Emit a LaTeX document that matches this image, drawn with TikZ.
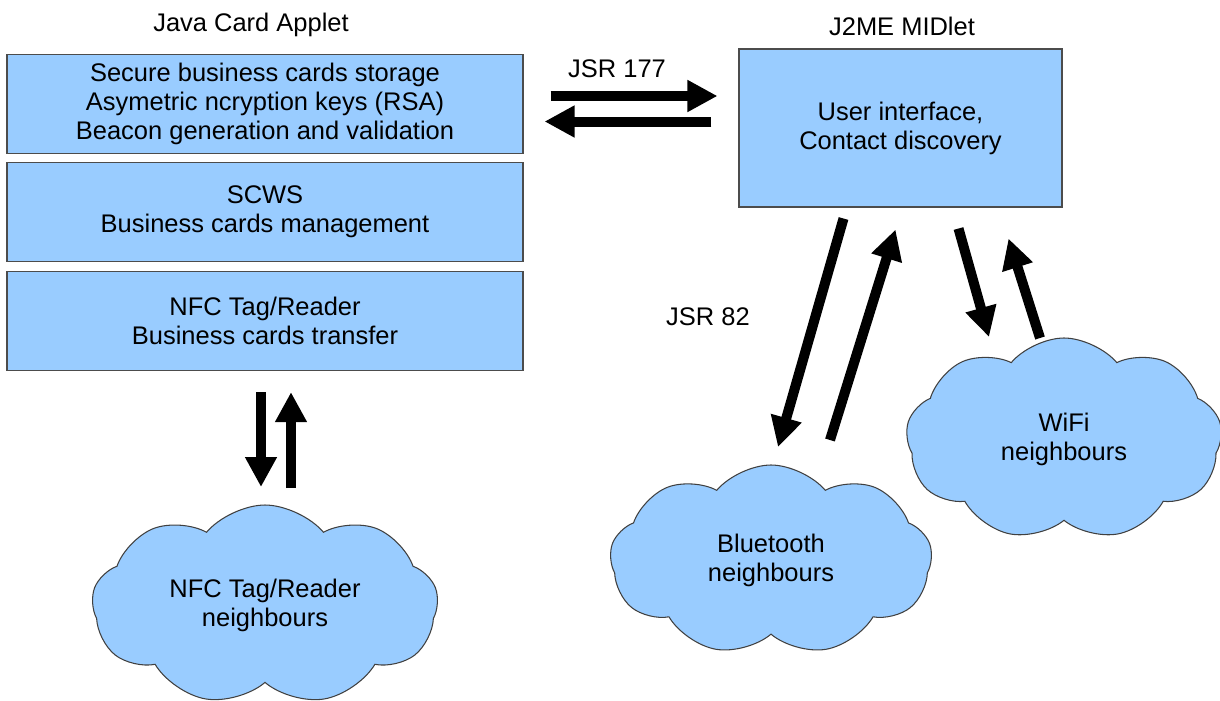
\documentclass[tikz,border=0pt]{standalone}
\usepackage{fontspec}
\setmainfont{Liberation Sans}
\usepackage{xcolor}
\usepackage{tikz}
\usetikzlibrary{shapes,arrows,positioning,calc,arrows.meta}
\definecolor{skyfill}{HTML}{99CCFF}

\begin{document}
\begin{tikzpicture}[
    font=\fontsize{14.5}{16.5}\selectfont,
    layer/.style={draw=black!70, line width=0.6pt, fill=skyfill, minimum width=10.32cm, minimum height=1.98cm, align=center, inner sep=0pt},
    puff/.style={cloud, cloud puffs=9, cloud puff arc=100, cloud ignores aspect, draw=black!75, line width=0.6pt, fill=skyfill, align=center},
    fat/.style={line width=0.2cm, -{Triangle[width=0.6cm,length=0.6cm]}}
  ]
    \useasboundingbox (0,0) rectangle (24.4,-14);

    % Java Card side
    \node [anchor=base] (apptitle) at (5.02, -0.62) {Java Card Applet};
    \node [layer] (store) at (5.3, -2.08) {Secure business cards storage\\Asymetric ncryption keys (RSA)\\Beacon generation and validation};
    \node [layer, below=0.16cm of store] (scws) {SCWS\\Business cards management};
    \node [layer, below=0.18cm of scws] (nfcrw) {NFC Tag/Reader\\Business cards transfer};

    % J2ME side
    \node [anchor=base] (midtitle) at (18.04, -0.7) {J2ME MIDlet};
    \node [layer, minimum width=6.46cm, minimum height=3.16cm] (midlet) at (18.01, -2.56) {User interface,\\Contact discovery};

    % Neighbours
    \node [puff, minimum width=6.92cm, minimum height=4.0cm] (nfc) at (5.3, -12.1) {NFC Tag/Reader\\neighbours};
    \node [puff, minimum width=6.44cm, minimum height=3.8cm] (bt) at (15.42, -11.2) {Bluetooth\\neighbours};
    \node [puff, minimum width=6.32cm, minimum height=4.04cm] (wifi) at (21.28, -8.78) {WiFi\\neighbours};

    % JSR 177
    \node [anchor=base] (jsr177) at (12.34, -1.54) {JSR 177};
    \draw [fat, shorten <=0.54cm, shorten >=0.42cm] ([yshift=0.16cm]store.east) -- ([yshift=0.16cm]store.east -| midlet.west);
    \draw [fat, shorten <=0.54cm, shorten >=0.42cm] ([yshift=-0.35cm]store.east -| midlet.west) -- ([yshift=-0.35cm]store.east);

    % NFC
    \draw [fat] ([xshift=-0.08cm, yshift=-0.42cm]nfcrw.south) -- ([xshift=-0.08cm, yshift=2.36cm]nfc.center);
    \draw [fat] ([xshift=0.52cm, yshift=2.34cm]nfc.center) -- ([xshift=0.52cm, yshift=-0.42cm]nfcrw.south);

    % JSR 82
    \node [anchor=base] (jsr82) at (14.16, -6.5) {JSR 82};
    \draw [fat] ([xshift=-1.14cm, yshift=-0.22cm]midlet.south) -- ([xshift=0.14cm, yshift=2.26cm]bt.center);
    \draw [fat] ([xshift=1.18cm, yshift=2.4cm]bt.center) -- ([xshift=-0.1cm, yshift=-0.44cm]midlet.south);

    % WiFi
    \draw [fat] ([xshift=1.16cm, yshift=-0.42cm]midlet.south) -- ([xshift=-1.5cm, yshift=2.04cm]wifi.center);
    \draw [fat] ([xshift=-0.48cm, yshift=2.02cm]wifi.center) -- ([xshift=2.16cm, yshift=-0.62cm]midlet.south);
\end{tikzpicture}
\end{document}
